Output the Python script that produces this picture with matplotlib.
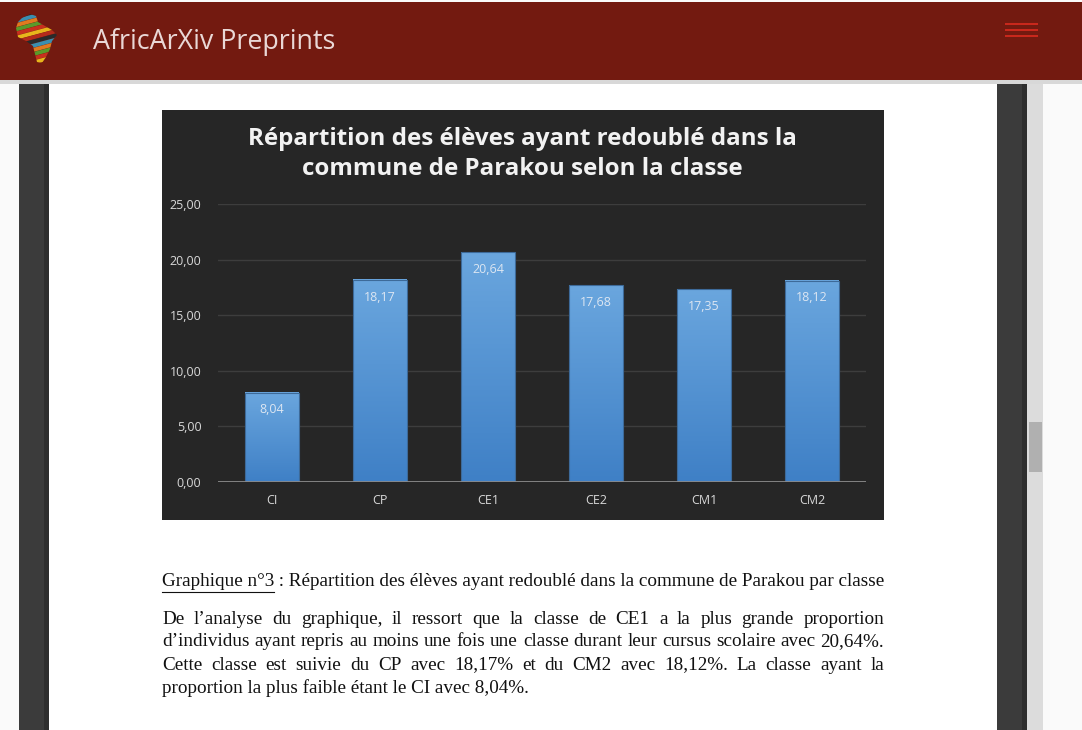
import matplotlib.pyplot as plt
import numpy as np
from matplotlib.patches import Rectangle, Polygon
from matplotlib.colors import LinearSegmentedColormap

# Chart data
classes = ['CI', 'CP', 'CE1', 'CE2', 'CM1', 'CM2']
taux = [8.04, 18.17, 20.64, 17.68, 17.35, 18.12]
yticks = [0, 5, 10, 15, 20, 25]
chart_title = 'Répartition des élèves ayant redoublé dans la\ncommune de Parakou selon la classe'

# Page texts
site_name = 'AfricArXiv Preprints'
caption_label = 'Graphique n°3'
caption_rest = ' : Répartition des élèves ayant redoublé dans la commune de Parakou par classe'
paragraph = [
    "De l’analyse du graphique, il ressort que la classe de CE1 a la plus grande proportion",
    "d’individus ayant repris au moins une fois une classe durant leur cursus scolaire avec 20,64%.",
    "Cette classe est suivie du CP avec 18,17% et du CM2 avec 18,12%. La classe ayant la",
    "proportion la plus faible étant le CI avec 8,04%.",
]

W, H = 1082, 730
fig = plt.figure(figsize=(W / 100, H / 100), dpi=100)

# Background in pixel coordinates
bg = fig.add_axes([0, 0, 1, 1])
bg.set_xlim(0, W)
bg.set_ylim(H, 0)
bg.axis('off')

def box(x0, y0, x1, y1, color, z=1, **kw):
    bg.add_patch(Rectangle((x0, y0), x1 - x0, y1 - y0, color=color, zorder=z, lw=0, **kw))

box(0, 0, W, H, '#fafafa', 0)
box(19, 80, 49, H, '#3b3b3b')
box(44, 80, 49, H, '#2e2e2e', 1.1)
box(49, 80, 997, H, '#ffffff')
box(997, 80, 1027, H, '#3b3b3b')
box(1022, 80, 1027, H, '#2e2e2e', 1.1)
box(1027, 80, 1043, H, '#dcdcdc')
box(1029, 422, 1042, 472, '#b0b0b0', 1.2)
# header
box(0, 80, W, 84, '#d8d8d8', 1.5)
box(0, 2, W, 80, '#731a10', 2)
for yy in (24, 30, 36):
    box(1005, yy - 1, 1038, yy + 1, '#c8281c', 3)
bg.text(93, 42, site_name, color='#ead8d6', fontsize=19.4, family='Open Sans',
        va='center', ha='left', zorder=3)

# rough africa logo with stripes
africa = np.array([[22, 18], [30, 14], [36, 16], [38, 22], [45, 26], [52, 30], [57, 35],
                   [52, 41], [50, 49], [46, 57], [42, 63], [37, 62], [35, 54], [33, 46],
                   [26, 41], [18, 37], [16, 28], [18, 22]])
logo = Polygon(africa, closed=True, fc='none', ec='none', zorder=3)
bg.add_patch(logo)
stripe_cols = ['#e8b51c', '#b52b1b', '#2a2a2a', '#3a8fb0', '#e07a1f', '#5a9a2a', '#c8301e']
for i in range(15):
    yb = 8 + i * 4.2
    st = Polygon([[10, yb], [62, yb - 14], [62, yb - 10], [10, yb + 4]], closed=True,
                 fc=stripe_cols[i % len(stripe_cols)], ec='none', zorder=3)
    bg.add_patch(st)
    st.set_clip_path(logo)

# chart panel
box(162, 110, 884, 520, '#262626', 2)
bg.text(522, 154, chart_title, color='#f2f2f2', fontsize=17.4, family='Open Sans',
        fontweight='bold', ha='center', va='center', linespacing=1.36, zorder=3)

# chart axes
x0, x1, ybase, ytop = 218, 866, 482, 204
ax = fig.add_axes([x0 / W, (H - ybase) / H, (x1 - x0) / W, (ybase - ytop) / H])
ax.set_facecolor('none')
ax.set_zorder(5)
for s in ax.spines.values():
    s.set_visible(False)
ax.set_yticks(yticks)
ax.yaxis.set_major_formatter(plt.FuncFormatter(lambda v, p: ('%.2f' % v).replace('.', ',')))
ax.set_xticks(range(len(classes)))
ax.set_xticklabels(classes)
ax.tick_params(length=0, colors='#d9d9d9', labelsize=9)
ax.tick_params(axis='y', pad=12)
ax.tick_params(axis='x', pad=9)
for lab in ax.get_xticklabels() + ax.get_yticklabels():
    lab.set_family('Open Sans')
for t in yticks[1:]:
    ax.axhline(t, color='#3d3d3d', lw=1, zorder=0)
ax.axhline(0, color='#8a8a8a', lw=1.3, zorder=4)

grad = np.linspace(1, 0, 100).reshape(-1, 1)
cmap = LinearSegmentedColormap.from_list('bar', ['#3f80c6', '#6aa6de'])
bw = 0.5
for i, v in enumerate(taux):
    ax.imshow(grad, extent=(i - bw / 2, i + bw / 2, 0, v), aspect='auto', cmap=cmap,
              origin='upper', zorder=2)
    ax.add_patch(Rectangle((i - bw / 2, 0), bw, v, fc='none', ec='#3d6a99', lw=0.8, zorder=3))
    ax.text(i, v - 1.55, ('%.2f' % v).replace('.', ','), ha='center', va='center',
            color='#dce6f2', fontsize=9, family='Open Sans', zorder=4)
ax.set_xlim(-0.5, len(classes) - 0.5)
ax.set_ylim(0, 25)

# caption and paragraph (Times-like, justified)
fig.canvas.draw()
renderer = fig.canvas.get_renderer()
serif = 'Liberation Serif'
fs = 13.8

def width_of(s):
    t = bg.text(0, 0, s, fontsize=fs, family=serif)
    w = t.get_window_extent(renderer).width
    t.remove()
    return w

left, right = 162, 884
bg.text(left, 582, caption_label, fontsize=fs, family=serif, va='center', color='#111111', zorder=3)
wl = width_of(caption_label)
bg.plot([left, left + wl], [592, 592], color='#111111', lw=0.8, zorder=3)
bg.text(left + wl, 582, caption_rest, fontsize=fs, family=serif, va='center', color='#111111', zorder=3)

line_y = [619, 642, 665, 688]
for k, (line, yy) in enumerate(zip(paragraph, line_y)):
    words = line.split(' ')
    if k == len(paragraph) - 1:
        bg.text(left, yy, line, fontsize=fs, family=serif, va='center', color='#111111', zorder=3)
        continue
    ws = [width_of(w) for w in words]
    gap = (right - left - sum(ws)) / (len(words) - 1)
    xx = left
    for w, wd in zip(words, ws):
        bg.text(xx, yy, w, fontsize=fs, family=serif, va='center', color='#111111', zorder=3)
        xx += wd + gap

fig.savefig('out.png', dpi=100)
